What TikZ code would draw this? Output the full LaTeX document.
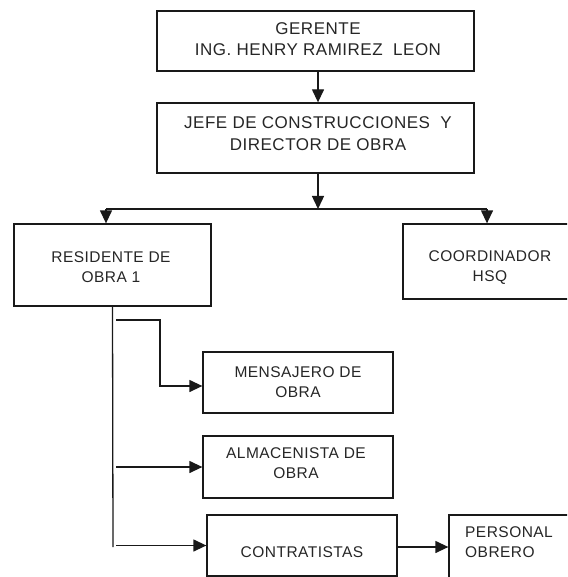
\documentclass[tikz,border=0pt]{standalone}
\usepackage{fontspec}
\setmainfont{Liberation Sans}[LetterSpace=3]
\usetikzlibrary{arrows.meta}
\begin{document}
\begin{tikzpicture}[x=1pt,y=-1pt,
  box/.style={draw=black!90, line width=1.3pt, rectangle, inner sep=0pt},
  txt/.style={align=center, font=\fontsize{15.5}{20}\selectfont, text=black!85, inner sep=0pt},
  bigtxt/.style={font=\fontsize{17}{21.5}\selectfont},
  arr/.style={draw=black!90, line width=1.3pt, -{Triangle[length=13pt,width=12pt]}},
  ln/.style={draw=black!90, line width=1.3pt}]
\useasboundingbox (0,0) rectangle (567,577);
\clip (0,0) rectangle (567,577);
% boxes
\node[box, minimum width=317pt, minimum height=60pt] (ger) at (315.5,41) {};
\node[box, minimum width=317pt, minimum height=70pt] (jef) at (315.5,138) {};
\node[box, minimum width=197pt, minimum height=82pt] (res) at (112.5,265) {};
\node[box, minimum width=197pt, minimum height=75pt] (coo) at (501.5,261.5) {};
\node[box, minimum width=190pt, minimum height=61pt] (men) at (298,382.5) {};
\node[box, minimum width=190pt, minimum height=62pt] (alm) at (298,467) {};
\node[box, minimum width=190pt, minimum height=61pt] (con) at (302,545.5) {};
\node[box, minimum width=171pt, minimum height=105pt] (per) at (534.5,567.5) {};
% texts
\node[txt, bigtxt] (gerT) at (318,39) {GERENTE\\ING. HENRY RAMIREZ\ \ LEON};
\node[txt, bigtxt] (jefT) at (318,133.5) {JEFE DE CONSTRUCCIONES\ \ Y\\DIRECTOR DE OBRA};
\node[txt] (resT) at (111,267) {RESIDENTE DE\\OBRA 1};
\node[txt] (cooT) at (490,267.5) {COORDINADOR\\HSQ};
\node[txt] (menT) at (298,382) {MENSAJERO DE\\OBRA};
\node[txt] (almT) at (296,463) {ALMACENISTA DE\\OBRA};
\node[txt] (conT) at (302,552) {CONTRATISTAS};
\node[txt, align=left, anchor=west] (perT) at (465,542) {PERSONAL\\OBRERO};
% connectors
\draw[arr] ([xshift=2.5pt]ger.south) -- ([xshift=2.5pt]jef.north);
\coordinate (hub) at (318,209);
\coordinate (bl) at (106,209);
\coordinate (br) at (487,209);
\draw[arr] ([xshift=2.5pt]jef.south) -- (hub);
\draw[ln] (bl) -- (br);
\draw[arr] (bl) -- (bl |- res.north);
\draw[arr] (br) -- (br |- coo.north);
\coordinate (vb) at (113,547);
\draw[ln] (res.south) -- (vb);
\coordinate (b1) at (116,320);
\coordinate (b1k) at (160,320);
\draw[arr] (b1) -- (b1k) |- ([yshift=-3.5pt]men.west);
\coordinate (b2) at (116,467);
\draw[arr] (b2) -- (alm.west);
\coordinate (b3) at (116,545.5);
\draw[arr] (b3) -- (con.west);
\draw[arr] ([yshift=-1.5pt]con.east) -- ([yshift=-1.5pt]con.east -| per.west);
\end{tikzpicture}
\end{document}
